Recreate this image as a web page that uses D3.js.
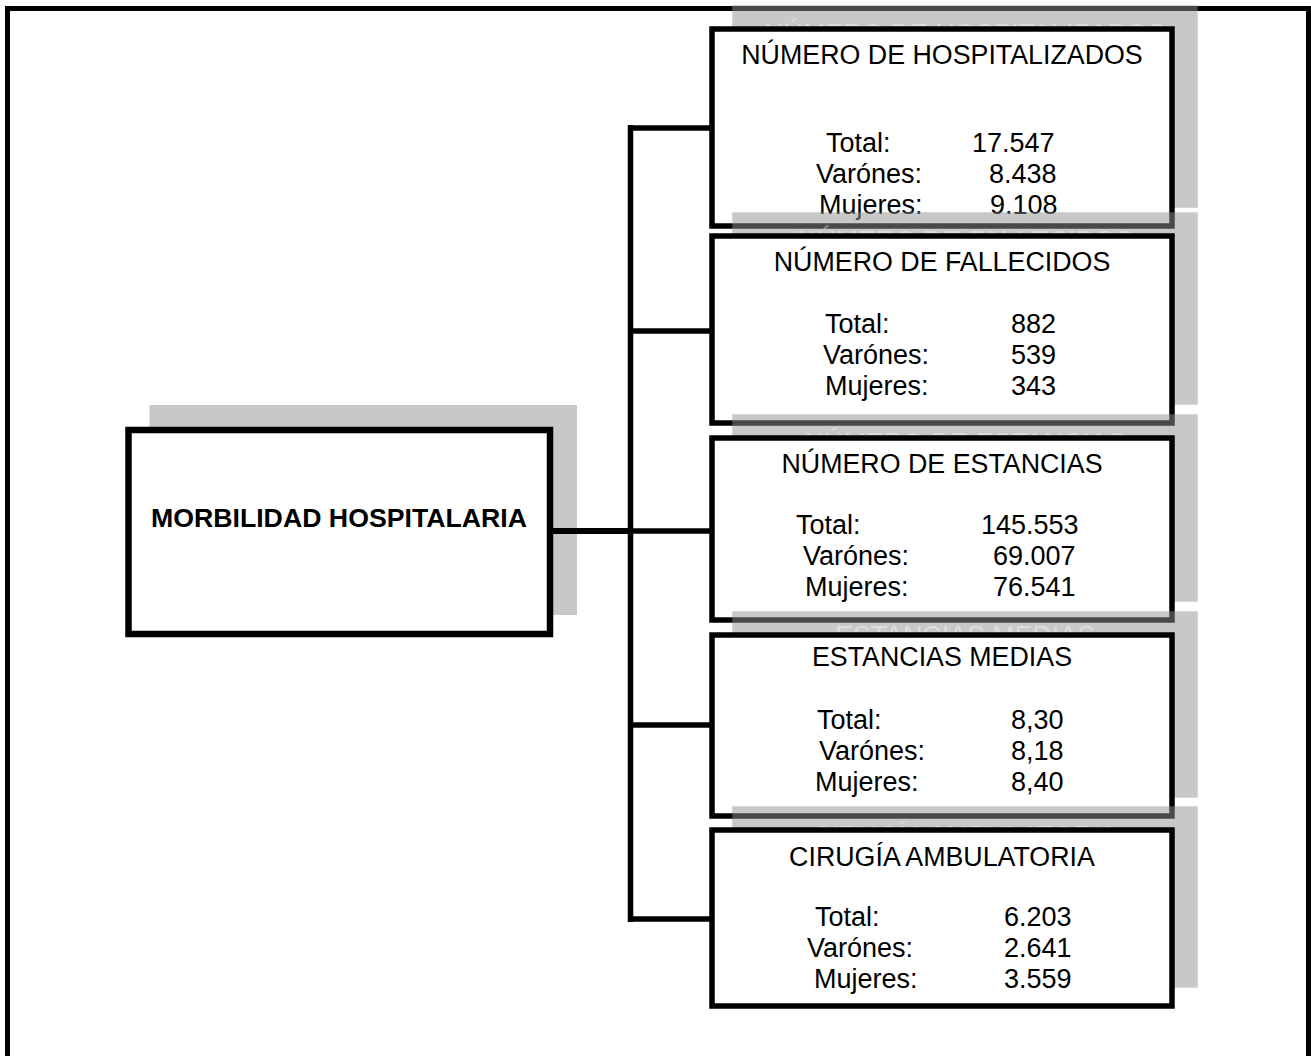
<!DOCTYPE html>
<html><head><meta charset="utf-8">
<script src="https://cdn.jsdelivr.net/npm/d3@7"></script>
<style>html,body{margin:0;padding:0;background:#fff;overflow:hidden}svg{display:block}</style>
</head><body>
<script>
// ---- data ----
const mainTitle = "MORBILIDAD HOSPITALARIA";
const titles = ["NÚMERO DE HOSPITALIZADOS","NÚMERO DE FALLECIDOS","NÚMERO DE ESTANCIAS","ESTANCIAS MEDIAS","CIRUGÍA AMBULATORIA"];
const rowLabels = ["Total:","Varónes:","Mujeres:"];
const totals  = ["17.547","882","145.553","8,30","6.203"];
const varones = ["8.438","539","69.007","8,18","2.641"];
const mujeres = ["9.108","343","76.541","8,40","3.559"];

// ---- layout ----
const W = 1311, H = 1056;
const boxTop    = [29, 236, 438, 635, 830];
const boxBottom = [226, 423, 620, 816, 1006];
const boxX0 = 712, boxX1 = 1172;
const titleBase = [64, 271, 473, 666, 866];
const rowBase0  = [152, 333, 534, 729, 926];
const rowStep = 31;
const labelX = [[826,816,819],[825,823,825],[796,803,805],[817,819,815],[815,807,814]];
const valueX = [[972,989,990],[1011,1011,1011],[981,993,993],[1011,1011,1011],[1004,1004,1004]];
const shDx = 23, shDy = -21;
const connY = [128, 331, 531, 725, 919];
const spineX = 630.5;
const titleSize = 26.8, rowSize = 27;

const svg = d3.select("body").append("svg").attr("width", W).attr("height", H)
  .style("font-family", "'Liberation Sans', Arial, sans-serif");

// outer frame
svg.append("rect").attr("x", 7.5).attr("y", 8.5).attr("width", 1301).attr("height", 1100)
  .attr("fill", "none").attr("stroke", "#000").attr("stroke-width", 5);

// left main box
const L = {x0: 128.5, y0: 430, x1: 550, y1: 634};
svg.append("rect").attr("x", L.x0 - 3 + 24).attr("y", L.y0 - 3 - 22)
  .attr("width", L.x1 - L.x0 + 6).attr("height", L.y1 - L.y0 + 6).attr("fill", "#c8c8c8");
svg.append("rect").attr("x", L.x0).attr("y", L.y0).attr("width", L.x1 - L.x0).attr("height", L.y1 - L.y0)
  .attr("fill", "#fff").attr("stroke", "#000").attr("stroke-width", 6.5);
svg.append("text").attr("x", 339).attr("y", 527).attr("text-anchor", "middle")
  .attr("font-size", 26.7).attr("font-weight", "bold").attr("fill", "#000").text(mainTitle);

// connectors
svg.append("line").attr("x1", L.x1).attr("x2", spineX).attr("y1", 531).attr("y2", 531)
  .attr("stroke", "#000").attr("stroke-width", 6);
svg.append("line").attr("x1", spineX).attr("x2", spineX).attr("y1", d3.min(connY) - 3).attr("y2", d3.max(connY) + 3)
  .attr("stroke", "#000").attr("stroke-width", 5.5);
svg.selectAll("line.conn").data(connY).join("line").attr("class", "conn")
  .attr("x1", spineX).attr("x2", boxX0).attr("y1", d => d).attr("y2", d => d)
  .attr("stroke", "#000").attr("stroke-width", 5.5);

// right boxes
const idx = d3.range(titles.length);
idx.forEach(i => {
  const g = svg.append("g");
  const sw = 5.5;
  // shadow (semi-transparent)
  g.append("rect").attr("x", boxX0 - sw/2 + shDx).attr("y", boxTop[i] - sw/2 + shDy)
    .attr("width", boxX1 - boxX0 + sw).attr("height", boxBottom[i] - boxTop[i] + sw)
    .attr("fill", "#929292").attr("fill-opacity", 0.5);
  // ghost title in shadow
  g.append("text").attr("x", (boxX0 + boxX1) / 2 + shDx).attr("y", titleBase[i] + shDy)
    .attr("text-anchor", "middle").attr("font-size", titleSize).attr("fill", "#fff").attr("fill-opacity", 0.4)
    .text(titles[i]);
  // box
  g.append("rect").attr("x", boxX0).attr("y", boxTop[i]).attr("width", boxX1 - boxX0)
    .attr("height", boxBottom[i] - boxTop[i]).attr("fill", "#fff").attr("stroke", "#000").attr("stroke-width", sw);
  g.append("text").attr("x", (boxX0 + boxX1) / 2).attr("y", titleBase[i])
    .attr("text-anchor", "middle").attr("font-size", titleSize).attr("fill", "#000").text(titles[i]);
  const vals = [totals[i], varones[i], mujeres[i]];
  rowLabels.forEach((lab, r) => {
    const y = rowBase0[i] + r * rowStep;
    g.append("text").attr("x", labelX[i][r]).attr("y", y).attr("font-size", rowSize).attr("fill", "#000").text(lab);
    g.append("text").attr("x", valueX[i][r]).attr("y", y).attr("font-size", rowSize).attr("fill", "#000").text(vals[r]);
  });
});
</script>
</body></html>
